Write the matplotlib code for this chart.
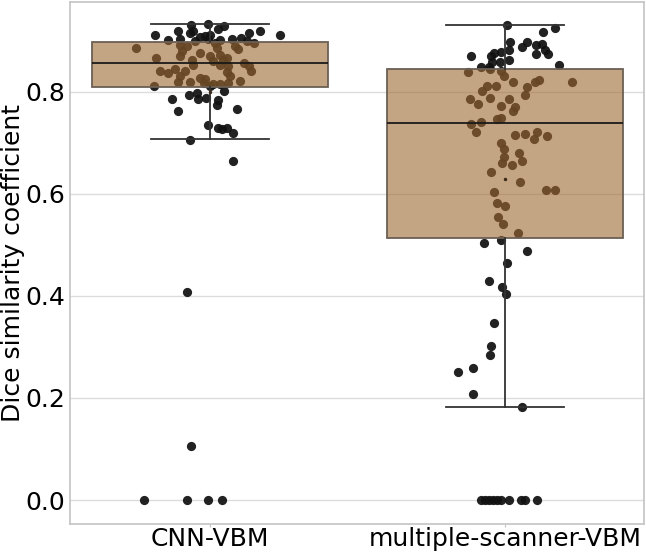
import matplotlib.pyplot as plt

# Box statistics
groups = ['CNN-VBM', 'multiple-scanner-VBM']
q1 = [0.810, 0.514]
median = [0.857, 0.739]
q3 = [0.898, 0.845]
whisker_low = [0.708, 0.182]
whisker_high = [0.933, 0.931]
means = [0.800, 0.629]

# Individual subjects (value, horizontal jitter in category units)
cnn_vals = [
    0.931, 0.933, 0.929, 0.923, 0.912, 0.920, 0.916, 0.901, 0.903, 0.907,
    0.910, 0.912, 0.903, 0.902, 0.903, 0.905, 0.916, 0.920, 0.911, 0.895,
    0.899, 0.920, 0.900,
    0.886, 0.866, 0.840, 0.836, 0.892, 0.879, 0.889, 0.870, 0.863, 0.853,
    0.876, 0.840, 0.830, 0.820, 0.820, 0.827, 0.825, 0.870, 0.895, 0.886,
    0.873, 0.863, 0.866, 0.853, 0.850, 0.838, 0.830, 0.889, 0.884, 0.856,
    0.851, 0.840, 0.822, 0.816, 0.816, 0.818, 0.812, 0.818, 0.860, 0.845,
    0.812, 0.786, 0.793, 0.797, 0.786, 0.787, 0.775, 0.783, 0.802, 0.763,
    0.767, 0.734, 0.729, 0.727, 0.729, 0.719, 0.706, 0.665,
    0.408, 0.105, 0.0, 0.0, 0.0, 0.0,
]
cnn_jit = [
    -0.066, -0.009, 0.048, 0.026, -0.187, -0.111, -0.068, -0.145, -0.102, -0.034,
    -0.017, 0.000, -0.009, 0.034, 0.074, 0.104, 0.133, 0.170, 0.238, 0.147,
    0.125, -0.060, -0.050,
    -0.253, -0.184, -0.170, -0.142, -0.102, -0.096, -0.080, -0.102, -0.062, -0.057,
    -0.036, -0.085, -0.102, -0.108, -0.068, -0.036, -0.017, 0.000, 0.017, 0.023,
    0.034, 0.045, 0.057, 0.034, 0.059, 0.057, 0.068, 0.085, 0.096, 0.113,
    0.130, 0.139, 0.102, 0.011, 0.034, 0.062, -0.190, -0.020, 0.010, -0.120,
    0.000, -0.130, -0.071, -0.045, -0.043, -0.016, 0.023, 0.028, 0.048, -0.108,
    0.091, -0.006, 0.028, 0.040, 0.057, 0.076, -0.070, 0.078,
    -0.078, -0.065, -0.224, -0.078, -0.007, 0.041,
]

msv_vals = [
    0.931, 0.926, 0.918, 0.897, 0.897, 0.887, 0.891, 0.894, 0.882, 0.875,
    0.874, 0.882, 0.878, 0.876, 0.871, 0.871, 0.863, 0.858, 0.859, 0.848,
    0.848, 0.853,
    0.838, 0.845, 0.840, 0.830, 0.820, 0.824, 0.820, 0.810, 0.820, 0.812,
    0.812, 0.801, 0.794, 0.786, 0.788, 0.786, 0.776, 0.773, 0.771, 0.763,
    0.747, 0.748, 0.737, 0.740, 0.722, 0.716, 0.718, 0.722, 0.707, 0.714,
    0.699, 0.688, 0.681, 0.672, 0.665, 0.660, 0.656, 0.642, 0.623, 0.608,
    0.608, 0.603, 0.583, 0.577, 0.554, 0.541, 0.524,
    0.510, 0.503, 0.488, 0.465, 0.430, 0.418, 0.404, 0.346, 0.302, 0.284,
    0.259, 0.251, 0.208, 0.182,
    0.0, 0.0, 0.0, 0.0, 0.0, 0.0, 0.0, 0.0, 0.0, 0.0,
]
msv_jit = [
    0.007, 0.170, 0.130, 0.018, 0.077, 0.058, 0.105, 0.128, 0.136, 0.147,
    0.105, 0.016, -0.014, -0.036, -0.048, -0.116, 0.013, -0.016, -0.042, -0.082,
    -0.054, 0.185,
    -0.125, -0.050, -0.014, -0.002, 0.027, 0.117, 0.102, 0.077, 0.230, -0.061,
    -0.030, -0.078, 0.068, -0.119, -0.051, 0.015, -0.091, -0.014, 0.035, 0.028,
    -0.028, -0.012, -0.115, -0.081, -0.096, 0.036, 0.069, 0.109, 0.100, 0.142,
    -0.014, -0.002, 0.047, -0.004, 0.057, -0.008, 0.023, -0.045, 0.052, 0.139,
    0.170, -0.036, -0.025, 0.000, -0.022, -0.007, 0.045,
    -0.014, -0.072, 0.074, 0.009, -0.055, -0.010, 0.005, -0.036, -0.045, -0.050,
    -0.107, -0.160, -0.109, 0.057,
    -0.082, -0.068, -0.054, -0.041, -0.027, -0.014, 0.014, 0.054, 0.068, 0.109,
]

fig = plt.figure(figsize=(6.46, 5.53), dpi=100)
ax = fig.add_axes([0.1084, 0.0524, 0.8886, 0.944])

# grid and frame
ax.set_axisbelow(True)
ax.yaxis.grid(True, color='#dcdcdc', linewidth=1.0)
for side in ['left', 'right', 'top', 'bottom']:
    ax.spines[side].set_color('#c4c4c4')
    ax.spines[side].set_linewidth(1.2)

# points first, box on top with alpha so the points show through as brown
for i, (vals, jit) in enumerate([(cnn_vals, cnn_jit), (msv_vals, msv_jit)]):
    xs = [i + j for j in jit]
    ax.scatter(xs, vals, s=44, color='#111111', alpha=0.93, linewidths=0, zorder=2)

stats = []
for i in range(len(groups)):
    stats.append({
        'label': groups[i], 'med': median[i], 'q1': q1[i], 'q3': q3[i],
        'whislo': whisker_low[i], 'whishi': whisker_high[i], 'mean': means[i],
        'fliers': [],
    })

bp = ax.bxp(stats, positions=[0, 1], widths=0.8, patch_artist=True,
            showfliers=False, showmeans=True,
            boxprops=dict(facecolor=(0.62, 0.41, 0.19, 0.6), edgecolor='#6b6055', linewidth=1.3),
            medianprops=dict(color='#1a1a1a', linewidth=1.3),
            whiskerprops=dict(color='#333333', linewidth=1.3),
            capprops=dict(color='#333333', linewidth=1.3),
            meanprops=dict(marker='o', markersize=2.5, markerfacecolor='#3a2a18',
                           markeredgecolor='none'),
            capwidths=0.4)
for part in ['boxes', 'medians', 'whiskers', 'caps', 'means']:
    for artist in bp[part]:
        artist.set_zorder(3)

ax.set_xlim(-0.476, 1.473)
ax.set_ylim(-0.047, 0.976)
ax.set_yticks([0.0, 0.2, 0.4, 0.6, 0.8])
ax.set_yticklabels(['0.0', '0.2', '0.4', '0.6', '0.8'])
ax.set_xticks([0, 1])
ax.set_xticklabels(groups)
ax.tick_params(axis='x', labelsize=18, length=2, color='#c4c4c4', pad=0.5)
ax.tick_params(axis='y', labelsize=18, length=0, pad=3.5)
ax.set_ylabel('Dice similarity coefficient', fontsize=18, labelpad=0.5)

plt.savefig('out.png', dpi=100)
